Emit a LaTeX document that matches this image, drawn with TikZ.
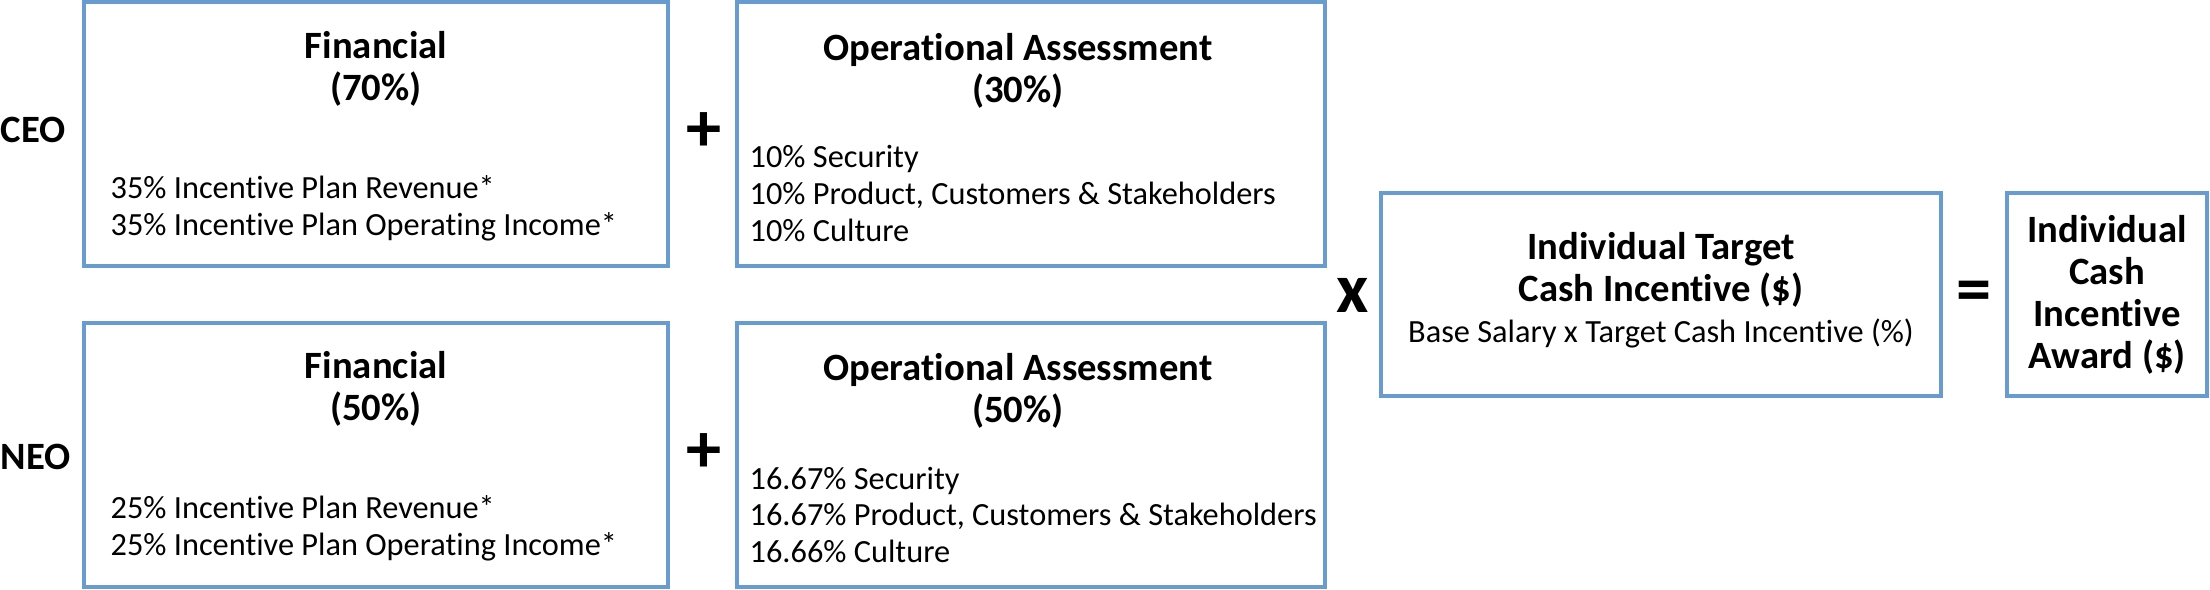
\documentclass[tikz,border=0pt]{standalone}
\usepackage{fontspec}
\setmainfont[Ligatures=NoCommon]{Carlito}
\usepackage{tikz}
\usetikzlibrary{positioning}
\definecolor{boxblue}{RGB}{104,156,208}
\tikzset{blk/.style={draw=boxblue, line width=0.04cm, inner sep=0pt},
    hd/.style={font=\bfseries\fontsize{11}{11.9}\selectfont, align=center, inner sep=0pt},
    bd/.style={font=\fontsize{9.2}{10.5}\selectfont, align=left, anchor=west, inner sep=0pt},
    who/.style={font=\bfseries\fontsize{11}{12}\selectfont, anchor=west, inner sep=0pt},
    opr/.style={font=\bfseries\fontsize{20}{20}\selectfont, inner sep=0pt}}

\begin{document}
\begin{tikzpicture}
    \useasboundingbox (0, 0) rectangle (22.10, -5.90);
    % boxes
    \node[blk, minimum width=5.84cm, minimum height=2.64cm] (fceo) at (3.76, -1.34) {};
    \node[blk, minimum width=5.88cm, minimum height=2.64cm] (oceo) at (10.31, -1.34) {};
    \node[blk, minimum width=5.84cm, minimum height=2.64cm] (fneo) at (3.76, -4.55) {};
    \node[blk, minimum width=5.88cm, minimum height=2.64cm] (oneo) at (10.31, -4.55) {};
    \node[blk, minimum width=5.60cm, minimum height=2.03cm] (tgt) at (16.61, -2.945) {};
    \node[blk, minimum width=2.00cm, minimum height=2.03cm] (awd) at (21.07, -2.945) {};
    % row labels
    \node[who] (ceo) at (0, -1.30) {CEO};
    \node[who] (neo) at (0, -4.57) {NEO};
    % CEO row
    \node[hd] (fceoh) at (3.76, -0.685) {Financial\\(70\%)};
    \node[bd] (fceob) at (1.10, -2.085) {35\% Incentive Plan Revenue*\\35\% Incentive Plan Operating Income*};
    \node[hd] (oceoh) at (10.18, -0.71) {Operational Assessment\\(30\%)};
    \node[bd] (oceob) at (7.49, -1.935) {10\% Security\\10\% Product, Customers \& Stakeholders\\10\% Culture};
    % NEO row
    \node[hd] (fneoh) at (3.76, -3.89) {Financial\\(50\%)};
    \node[bd] (fneob) at (1.10, -5.285) {25\% Incentive Plan Revenue*\\25\% Incentive Plan Operating Income*};
    \node[hd] (oneoh) at (10.18, -3.91) {Operational Assessment\\(50\%)};
    \node[bd] (oneob) at (7.49, -5.15) {16.67\% Security\\16.67\% Product, Customers \& Stakeholders\\16.66\% Culture};
    % target and award
    \node[hd] (tgth) at (16.61, -2.70) {Individual Target\\Cash Incentive (\$)};
    \node[bd, anchor=center] (tgtb) at (16.61, -3.33) {Base Salary x Target Cash Incentive (\%)};
    \node[hd] (awdh) at (21.07, -2.95) {Individual\\Cash\\Incentive\\Award (\$)};
    % operators
    \node[opr] (p1) at (7.04, -1.32) {+};
    \node[opr] (p2) at (7.04, -4.53) {+};
    \node[opr] (mul) at (13.53, -2.95) {x};
    \node[opr] (eq) at (19.74, -2.97) {=};
\end{tikzpicture}
\end{document}
